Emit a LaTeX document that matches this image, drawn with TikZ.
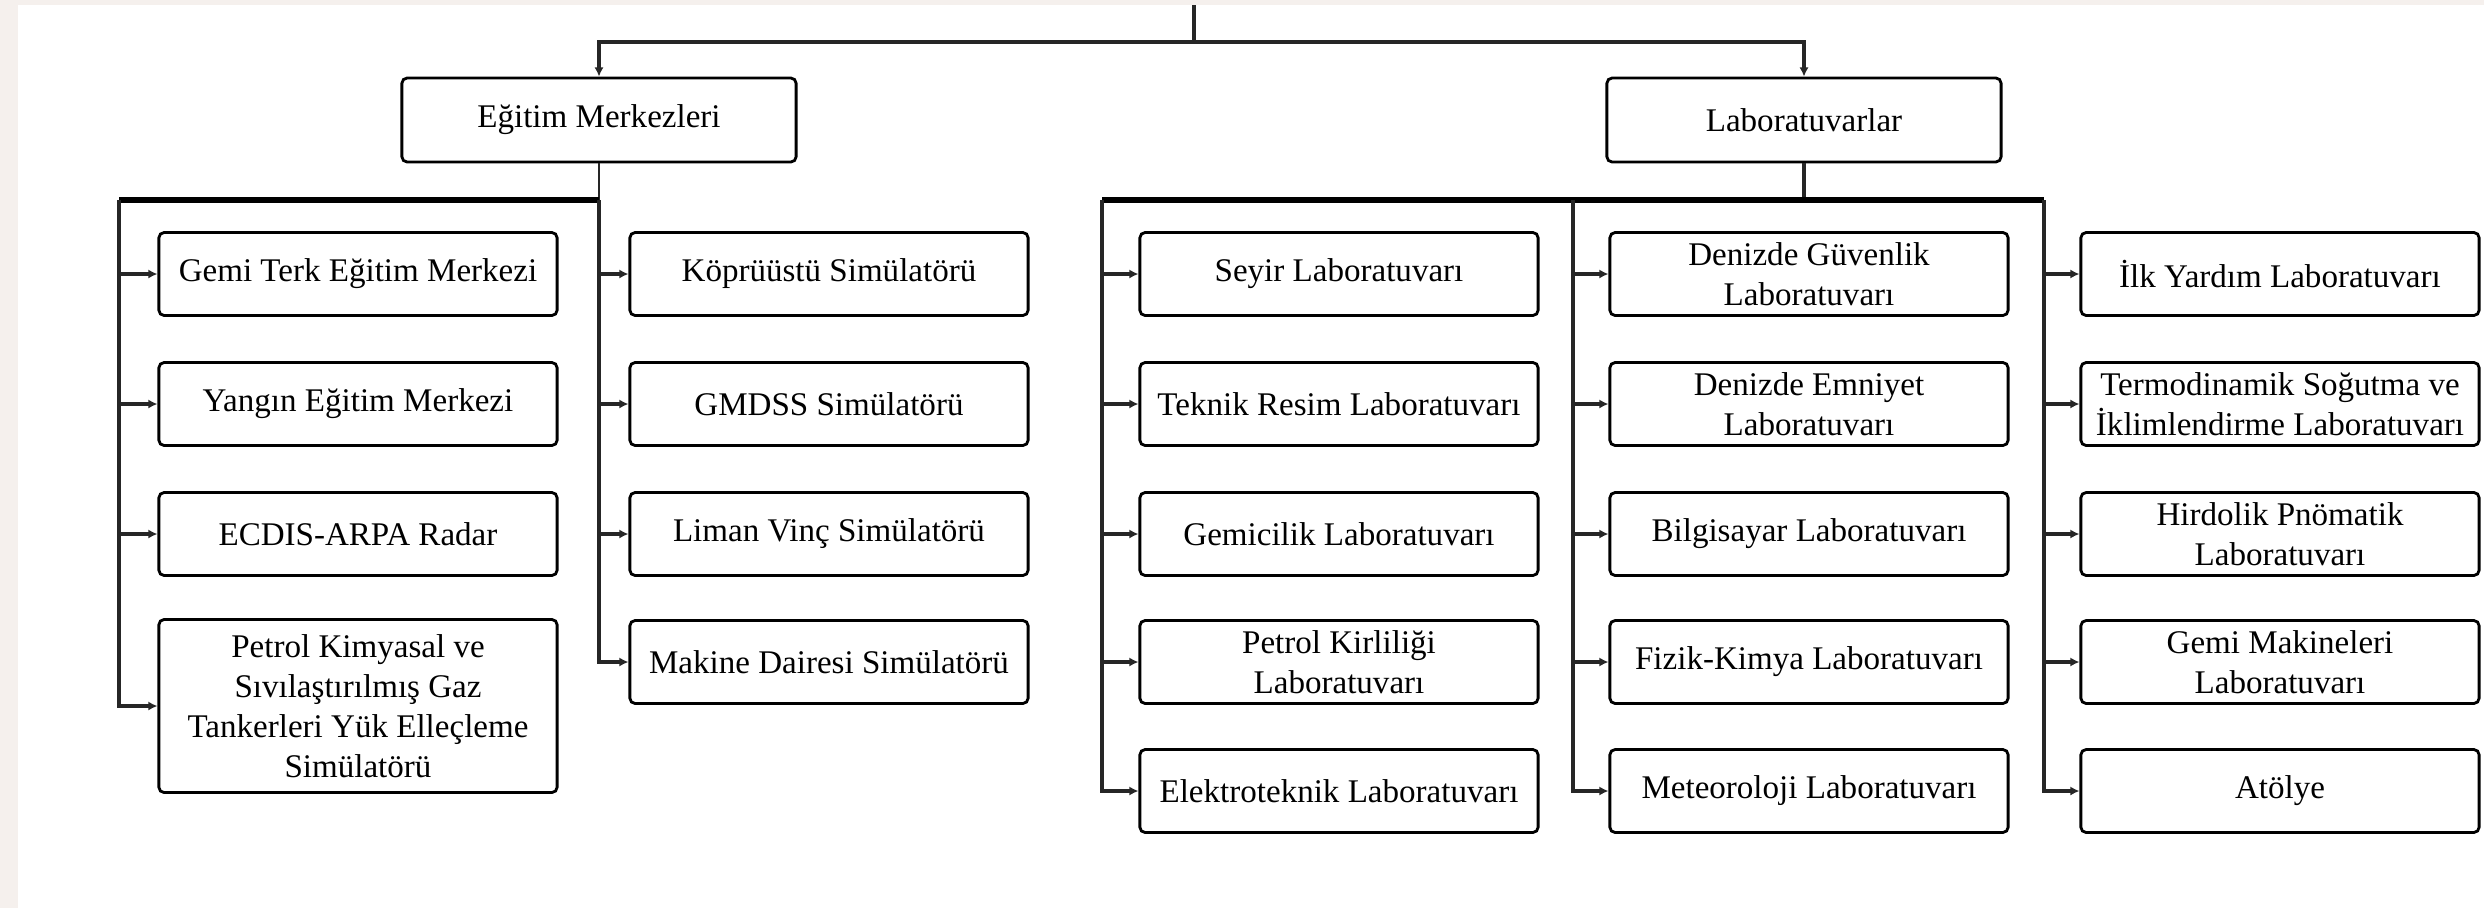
\documentclass[tikz,border=0pt]{standalone}
\usepackage{fontspec}
\setmainfont{Liberation Serif}
\usetikzlibrary{arrows.meta}
\definecolor{pagebg}{HTML}{F5F0ED}
\definecolor{linegray}{HTML}{262626}
\tikzset{
  unitbox/.style={draw=black, line width=0.8pt, rounded corners=1.5pt, fill=white,
    minimum width=3.98cm, minimum height=0.83cm, align=center, inner sep=1pt,
    font=\fontsize{9.4}{11.4}\selectfont},
  headbox/.style={unitbox, minimum width=3.94cm, minimum height=0.84cm},
  link/.style={draw=linegray, line width=0.8pt},
  bar/.style={draw=black, line width=1.7pt},
  feed/.style={link, line width=1pt, -{Latex[length=2.6pt,width=2.6pt]}}
}

\begin{document}
\begin{tikzpicture}[x=0.01cm, y=-0.01cm]
        \useasboundingbox (0,0) rectangle (2484,908);
        \fill[pagebg] (0,0) rectangle (2484,908);
        \fill[white] (18,5) rectangle (2484,908);

        \node[headbox] (egitim) at (599,120) {Eğitim Merkezleri};
        \node[headbox] (lab) at (1804,120) {Laboratuvarlar};

        \node[unitbox] (e11) at (358,274) {Gemi Terk Eğitim Merkezi};
        \node[unitbox] (e12) at (358,404) {Yangın Eğitim Merkezi};
        \node[unitbox] (e13) at (358,534) {ECDIS-ARPA Radar};
        \node[unitbox, minimum height=1.73cm] (e14) at (358,706) {Petrol Kimyasal ve\\Sıvılaştırılmış Gaz\\Tankerleri Yük Elleçleme\\Simülatörü};
        \node[unitbox] (e21) at (829,274) {Köprüüstü Simülatörü};
        \node[unitbox] (e22) at (829,404) {GMDSS Simülatörü};
        \node[unitbox] (e23) at (829,534) {Liman Vinç Simülatörü};
        \node[unitbox] (e24) at (829,662) {Makine Dairesi Simülatörü};

        \node[unitbox] (la1) at (1339,274) {Seyir Laboratuvarı};
        \node[unitbox] (la2) at (1339,404) {Teknik Resim Laboratuvarı};
        \node[unitbox] (la3) at (1339,534) {Gemicilik Laboratuvarı};
        \node[unitbox] (la4) at (1339,662) {Petrol Kirliliği\\Laboratuvarı};
        \node[unitbox] (la5) at (1339,791) {Elektroteknik Laboratuvarı};
        \node[unitbox] (lb1) at (1809,274) {Denizde Güvenlik\\Laboratuvarı};
        \node[unitbox] (lb2) at (1809,404) {Denizde Emniyet\\Laboratuvarı};
        \node[unitbox] (lb3) at (1809,534) {Bilgisayar Laboratuvarı};
        \node[unitbox] (lb4) at (1809,662) {Fizik-Kimya Laboratuvarı};
        \node[unitbox] (lb5) at (1809,791) {Meteoroloji Laboratuvarı};
        \node[unitbox] (lc1) at (2280,274) {İlk Yardım Laboratuvarı};
        \node[unitbox] (lc2) at (2280,404) {Termodinamik Soğutma ve\\İklimlendirme Laboratuvarı};
        \node[unitbox] (lc3) at (2280,534) {Hirdolik Pnömatik\\Laboratuvarı};
        \node[unitbox] (lc4) at (2280,662) {Gemi Makineleri\\Laboratuvarı};
        \node[unitbox] (lc5) at (2280,791) {Atölye};

        \coordinate (top) at (1194,5);
        \coordinate (split) at (1194,42);
        \draw[link, line width=1pt] (top) -- (split);
        \draw[feed] (split) -| (egitim.north);
        \draw[feed] (split) -| (lab.north);

        \coordinate (ebus) at (599,200);
        \coordinate (ecol) at (119,200);
        \draw[link] (egitim.south) -- (ebus);
        \draw[bar] (ecol) -- (ebus);
        \foreach \n in {e11,e12,e13,e14}
            \draw[feed] (ecol) |- (\n.west);
        \foreach \n in {e21,e22,e23,e24}
            \draw[feed] (ebus) |- (\n.west);

        \coordinate (lbus) at (1804,200);
        \coordinate (lcola) at (1102,200);
        \coordinate (lcolb) at (1573,200);
        \coordinate (lcolc) at (2044,200);
        \draw[link, line width=1pt] (lab.south) -- (lbus);
        \draw[bar] (lcola) -- (lcolc);
        \foreach \n in {la1,la2,la3,la4,la5}
            \draw[feed] (lcola) |- (\n.west);
        \foreach \n in {lb1,lb2,lb3,lb4,lb5}
            \draw[feed] (lcolb) |- (\n.west);
        \foreach \n in {lc1,lc2,lc3,lc4,lc5}
            \draw[feed] (lcolc) |- (\n.west);
    \end{tikzpicture}
\end{document}
